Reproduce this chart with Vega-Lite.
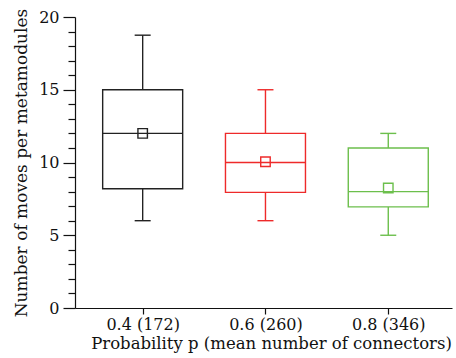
{
  "$schema": "https://vega.github.io/schema/vega-lite/v6.json",
  "width": 377,
  "height": 291,
  "autosize": "none",
  "padding": {"left": 75, "top": 17, "right": 4, "bottom": 50},
  "background": "white",
  "config": {"view": {"stroke": null}, "font": "DejaVu Serif"},
  "resolve": {"axis": {"y": "independent"}},
  "data": {"values": [
    {"p": "0.4 (172)", "lower": 6, "q1": 8.2, "median": 12, "q3": 15, "upper": 18.75, "mean": 12},
    {"p": "0.6 (260)", "lower": 6, "q1": 7.95, "median": 10, "q3": 12, "upper": 15, "mean": 10.05},
    {"p": "0.8 (346)", "lower": 5, "q1": 6.95, "median": 8, "q3": 11, "upper": 12, "mean": 8.25}
  ]},
  "encoding": {
    "x": {"field": "p", "type": "nominal", "sort": null,
      "scale": {"type": "point", "padding": 0.535, "align": 0.515},
      "axis": {"title": "Probability p (mean number of connectors)", "labelAngle": 0,
        "labelFont": "DejaVu Serif", "labelFontSize": 16, "labelColor": "#111", "labelPadding": 2,
        "titleFont": "DejaVu Serif", "titleFontSize": 16.5, "titleFontWeight": "normal", "titleColor": "#111", "titlePadding": 3, "titleX": 196,
        "domainColor": "#111", "tickColor": "#111", "tickSize": 6, "domainWidth": 1.2, "tickWidth": 1.2}},
    "color": {"field": "p", "type": "nominal", "legend": null,
      "scale": {"domain": ["0.4 (172)", "0.6 (260)", "0.8 (346)"], "range": ["#222222", "#ee2a2a", "#6cbf4c"]}}
  },
  "layer": [
    {"mark": {"type": "rule", "strokeWidth": 1.4},
     "encoding": {"y": {"field": "lower", "type": "quantitative",
        "scale": {"domain": [0, 20]},
        "axis": {"title": "Number of moves per metamodules", "values": [0, 5, 10, 15, 20],
          "tickSize": 12, "labelOverlap": false,
          "labelFont": "DejaVu Serif", "labelFontSize": 16, "labelColor": "#111", "labelPadding": 4,
          "titleFont": "DejaVu Serif", "titleFontSize": 17, "titleFontWeight": "normal", "titleColor": "#111", "titlePadding": 8,
          "domainColor": "#111", "tickColor": "#111", "domainWidth": 1.2, "tickWidth": 1.2, "grid": false}},
       "y2": {"field": "q1"}}},
    {"mark": {"type": "rule", "strokeWidth": 1.4},
     "encoding": {"y": {"field": "q3", "type": "quantitative",
        "axis": {"orient": "left", "title": null, "values": [1,2,3,4,6,7,8,9,11,12,13,14,16,17,18,19],
          "tickSize": 7, "labels": false, "domain": false, "grid": false,
          "tickColor": "#111", "tickWidth": 1.2}},
       "y2": {"field": "upper"}}},
    {"mark": {"type": "tick", "size": 16, "thickness": 1.4, "opacity": 1},
     "encoding": {"y": {"field": "lower", "type": "quantitative", "axis": null}}},
    {"mark": {"type": "tick", "size": 16, "thickness": 1.4, "opacity": 1},
     "encoding": {"y": {"field": "upper", "type": "quantitative", "axis": null}}},
    {"mark": {"type": "bar", "width": 80, "fill": "white", "strokeWidth": 1.4},
     "encoding": {"y": {"field": "q1", "type": "quantitative", "axis": null}, "y2": {"field": "q3"},
       "color": {"value": "white"},
       "stroke": {"field": "p", "type": "nominal", "legend": null,
         "scale": {"domain": ["0.4 (172)", "0.6 (260)", "0.8 (346)"], "range": ["#222222", "#ee2a2a", "#6cbf4c"]}}}},
    {"mark": {"type": "tick", "size": 80, "thickness": 1.4, "opacity": 1},
     "encoding": {"y": {"field": "median", "type": "quantitative", "axis": null}}},
    {"mark": {"type": "point", "shape": "square", "filled": false, "size": 90, "strokeWidth": 1.4, "opacity": 1},
     "encoding": {"y": {"field": "mean", "type": "quantitative", "axis": null}}}
  ]
}
